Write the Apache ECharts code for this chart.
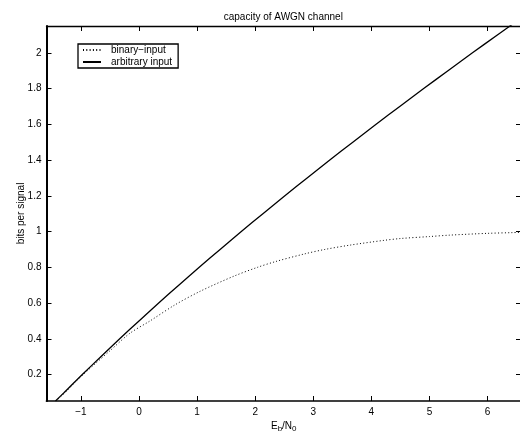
<!DOCTYPE html>
<html>
<head>
<meta charset="utf-8">
<title>capacity of AWGN channel</title>
<script src="https://cdn.jsdelivr.net/npm/echarts@6/dist/echarts.min.js"></script>
<style>
  html, body { margin: 0; padding: 0; background: #fff; }
  #chart { width: 520px; height: 432px; }
</style>
</head>
<body>
<div id="chart"></div>
<script>
// Eb/N0 in dB and capacity in bits per signal, arbitrary (Gaussian) input
const arbitraryEbN0 = [-1.437, -1.287, -1.133, -0.976, -0.657, -0.332, 0.0, 0.339, 0.684, 1.037, 1.396, 1.761,
  2.133, 2.511, 2.894, 3.284, 3.680, 4.081, 4.488, 4.900, 5.318, 5.740, 6.168, 6.600];
const arbitraryBits = [0.052, 0.1, 0.15, 0.2, 0.3, 0.4, 0.5, 0.6, 0.7, 0.8, 0.9, 1.0,
  1.1, 1.2, 1.3, 1.4, 1.5, 1.6, 1.7, 1.8, 1.9, 2.0, 2.1, 2.2];

// binary-input channel
const binaryEbN0 = [-1.43, -1.27, -1.07, -0.96, -0.79, -0.50, -0.16, 0.19, 0.62, 1.06, 1.63, 2.04,
  2.36, 2.85, 3.20, 3.65, 4.20, 4.50, 5.00, 5.35, 6.00, 6.43, 6.60];
const binaryBits = [0.052, 0.1, 0.167, 0.2, 0.25, 0.333, 0.43, 0.5, 0.59, 0.667, 0.75, 0.8,
  0.833, 0.875, 0.9, 0.925, 0.95, 0.961, 0.972, 0.98, 0.99, 0.994, 0.996];

const seriesNames = ['binary\u2212input', 'arbitrary input'];
const xTicks = [-1, 0, 1, 2, 3, 4, 5, 6];
const yTicks = [0.2, 0.4, 0.6, 0.8, 1, 1.2, 1.4, 1.6, 1.8, 2];
const xRange = [-1.592, 6.575];
const yRange = [0.052, 2.15];

const FONT = '"Liberation Sans", Arial, Helvetica, sans-serif';
const zip = (a, b) => a.map((v, i) => [v, b[i]]);
const fmtX = v => (v < 0 ? '\u2212' + Math.abs(v) : String(v));

const tickStyle = (vals) => ({
  show: true, inside: true, length: 5, customValues: vals,
  lineStyle: { color: '#000', width: 1 }
});

const chart = echarts.init(document.getElementById('chart'), null, { renderer: 'canvas' });
chart.setOption({
  animation: false,
  backgroundColor: '#fff',
  color: ['#000', '#000'],
  textStyle: { fontFamily: FONT },
  grid: { left: 46.5, top: 26, width: 474.5, height: 375, outerBoundsMode: 'none', containLabel: false },
  graphic: [{
    type: 'text', left: 283.75 - 60, top: 12.5,
    style: { text: 'capacity of AWGN channel', fontFamily: FONT, fontSize: 10, fill: '#000', width: 120, align: 'center' }
  }],
  legend: {
    orient: 'vertical', left: 78, top: 44,
    padding: [1, 6, 1, 4], itemGap: 2, itemWidth: 18, itemHeight: 10,
    borderColor: '#000', borderWidth: 1.3, backgroundColor: '#fff',
    itemStyle: { opacity: 0 },
    textStyle: { fontFamily: FONT, fontSize: 10, color: '#000', padding: [0, 0, 0, 5] },
    data: seriesNames
  },
  xAxis: [{
    type: 'value', position: 'bottom', min: xRange[0], max: xRange[1],
    axisLine: { show: true, onZero: false, lineStyle: { color: '#000', width: 1.7 } },
    axisTick: tickStyle(xTicks),
    axisLabel: { customValues: xTicks, formatter: fmtX, color: '#000', fontSize: 10, fontFamily: FONT, margin: 6 },
    splitLine: { show: false },
    name: '{a|E}{b|b}{a|/N}{b|0}', nameLocation: 'middle', nameGap: 18, nameMoveOverlap: false,
    nameTextStyle: {
      color: '#000', fontFamily: FONT,
      rich: {
        a: { fontSize: 10, color: '#000', fontFamily: FONT },
        b: { fontSize: 8, color: '#000', fontFamily: FONT, padding: [6, 0, 0, 0] }
      }
    }
  }, {
    type: 'value', position: 'top', min: xRange[0], max: xRange[1],
    axisLine: { show: true, onZero: false, lineStyle: { color: '#000', width: 1.3 } },
    axisTick: tickStyle(xTicks),
    axisLabel: { show: false },
    splitLine: { show: false }
  }],
  yAxis: [{
    type: 'value', position: 'left', min: yRange[0], max: yRange[1],
    axisLine: { show: true, onZero: false, lineStyle: { color: '#000', width: 2 } },
    axisTick: tickStyle(yTicks),
    axisLabel: { customValues: yTicks, color: '#000', fontSize: 10, fontFamily: FONT, margin: 5 },
    splitLine: { show: false },
    name: 'bits per signal', nameLocation: 'middle', nameGap: 20, nameRotate: 90, nameMoveOverlap: false,
    nameTextStyle: { color: '#000', fontSize: 10, fontFamily: FONT }
  }, {
    type: 'value', position: 'right', min: yRange[0], max: yRange[1],
    axisLine: { show: true, onZero: false, lineStyle: { color: '#000', width: 1.3 } },
    axisTick: tickStyle(yTicks),
    axisLabel: { show: false },
    splitLine: { show: false }
  }],
  series: [{
    name: seriesNames[0], type: 'line', xAxisIndex: 0, yAxisIndex: 0,
    data: zip(binaryEbN0, binaryBits),
    symbol: 'none', smooth: 0.3, clip: true,
    itemStyle: { color: '#000' },
    lineStyle: { color: '#000', width: 1, type: [1, 2.3] }
  }, {
    name: seriesNames[1], type: 'line', xAxisIndex: 0, yAxisIndex: 0,
    data: zip(arbitraryEbN0, arbitraryBits),
    symbol: 'none', smooth: 0.3, clip: true,
    itemStyle: { color: '#000' },
    lineStyle: { color: '#000', width: 1.3, type: 'solid' }
  }]
});
</script>
</body>
</html>
